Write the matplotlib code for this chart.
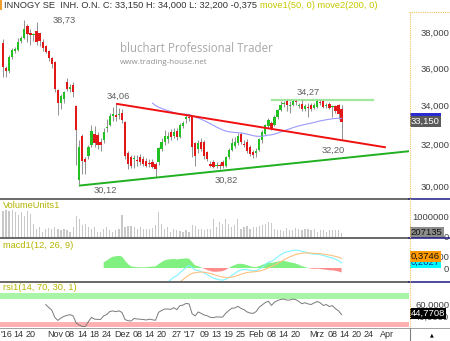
import numpy as np
import pandas as pd
import matplotlib
matplotlib.use("Agg")
import matplotlib.pyplot as plt
from matplotlib.lines import Line2D
from matplotlib.patches import Rectangle
from matplotlib.ticker import NullLocator
from matplotlib.transforms import ScaledTranslation

plt.rcParams['font.family'] = ['Liberation Sans', 'DejaVu Sans']

W, H = 450, 341

# Tageskerzen INNOGY SE, 07.10.2016 - 13.03.2017
opens = [37.4, 36.0, 35.8, 36.6, 36.95, 37.0, 37.5, 37.7, 38.4, 37.95,
         37.85, 38.1, 37.95, 37.45, 37.2, 36.95, 36.55, 36.3, 34.8, 34.1,
         34.3, 35.2, 34.85, 35.05, 33.95, 30.3, 32.4, 31.3, 31.45, 32.0,
         32.5, 32.45, 32.15, 32.2, 32.8, 33.0, 33.45, 33.5, 33.5, 33.6,
         33.15, 31.6, 31.4, 31.3, 31.25, 31.4, 31.3, 31.2, 31.1, 31.15,
         31.05, 31.15, 31.8, 32.15, 32.25, 32.6, 32.4, 32.65, 32.35, 32.9,
         33.3, 33.4, 33.42, 32.1, 31.8, 32.15, 32.15, 31.65, 31.05, 31.15,
         30.95, 31.0, 31.15, 30.95, 31.4, 31.75, 31.95, 32.1, 32.5, 32.05,
         32.15, 31.9, 31.65, 31.6, 31.75, 32.2, 32.5, 32.9, 33.1, 32.95,
         33.4, 33.75, 34.05, 34.2, 33.95, 34.0, 34.2, 33.95, 34.05, 33.8,
         33.9, 34.0, 33.85, 33.9, 34.15, 34.2, 33.95, 34.05, 33.9, 33.95,
         34.0, 33.8]
highs = [37.6, 36.1, 36.7, 37.1, 37.15, 37.7, 37.8, 38.73, 38.5, 38.2,
         38.0, 38.6, 38.0, 37.6, 37.3, 37.0, 36.6, 36.4, 34.85, 34.6,
         34.75, 35.45, 35.1, 35.2, 34.0, 32.2, 32.5, 31.4, 32.0, 33.0,
         32.9, 32.6, 32.3, 32.8, 33.3, 33.6, 33.9, 34.06, 33.85, 33.8,
         33.2, 31.7, 31.5, 31.5, 31.5, 31.55, 31.45, 31.35, 31.3, 31.3,
         31.15, 31.9, 32.3, 32.7, 32.6, 32.75, 32.8, 32.8, 33.1, 33.2,
         33.5, 33.55, 33.5, 32.15, 32.2, 32.3, 32.2, 31.7, 31.2, 31.25,
         31.15, 31.1, 31.25, 31.45, 31.85, 32.3, 32.35, 32.55, 32.6, 32.2,
         32.25, 32.0, 31.75, 31.85, 32.3, 32.7, 33.05, 33.35, 33.2, 33.5,
         33.8, 34.2, 34.2, 34.25, 34.2, 34.25, 34.27, 34.1, 34.25, 34.05,
         34.1, 34.1, 34.1, 34.25, 34.27, 34.25, 34.1, 34.15, 34.0, 34.0,
         34.05, 34.0]
lows = [35.5, 35.5, 35.7, 36.5, 36.8, 36.95, 37.4, 37.6, 37.45, 37.3,
        37.5, 37.3, 37.2, 36.95, 36.8, 36.4, 36.0, 34.7, 33.5, 33.8,
        34.1, 34.75, 34.7, 34.4, 31.0, 30.12, 30.6, 30.6, 31.3, 31.9,
        31.9, 31.8, 31.7, 32.1, 32.6, 32.9, 33.2, 33.2, 33.3, 33.1,
        31.3, 30.8, 30.85, 30.85, 30.95, 31.0, 30.95, 30.9, 30.9, 30.85,
        30.45, 31.0, 31.7, 32.0, 32.1, 32.2, 32.3, 32.2, 32.3, 32.8,
        33.1, 33.2, 31.4, 30.95, 31.6, 31.7, 31.3, 31.2, 30.9, 30.85,
        30.85, 30.82, 30.85, 30.9, 31.3, 31.7, 31.85, 32.0, 32.05, 31.9,
        31.6, 31.45, 31.35, 31.4, 31.7, 32.1, 32.45, 32.8, 32.7, 32.9,
        33.3, 33.7, 33.9, 33.7, 33.6, 33.95, 34.0, 33.85, 33.7, 33.7,
        33.4, 33.7, 33.8, 33.85, 34.0, 33.85, 33.85, 33.8, 33.4, 33.6,
        33.3, 32.2]
closes = [36.05, 35.8, 36.6, 37.0, 37.05, 37.45, 37.7, 38.2, 37.9, 37.85,
          37.9, 37.45, 37.5, 37.1, 36.9, 36.55, 36.2, 34.85, 34.1, 34.45,
          34.7, 34.85, 34.95, 34.7, 32.7, 31.9, 31.2, 31.15, 31.9, 32.65,
          32.1, 32.0, 32.0, 32.6, 32.85, 33.42, 33.55, 33.4, 33.55, 33.25,
          31.45, 31.05, 30.95, 31.35, 31.2, 31.15, 31.05, 30.95, 31.05, 30.9,
          30.8, 31.85, 32.15, 32.4, 32.4, 32.35, 32.6, 32.35, 33.0, 33.1,
          33.4, 33.35, 31.9, 31.45, 32.1, 31.8, 31.45, 31.3, 30.95, 30.9,
          31.0, 30.95, 30.95, 31.4, 31.75, 32.1, 32.15, 32.4, 32.15, 32.0,
          31.7, 31.55, 31.5, 31.7, 32.25, 32.6, 33.0, 33.25, 32.8, 33.4,
          33.75, 34.0, 34.1, 34.0, 34.0, 34.2, 34.15, 34.0, 33.8, 33.95,
          33.85, 33.8, 34.0, 34.2, 34.1, 33.9, 34.0, 33.85, 33.95, 33.7,
          33.525, 33.15]
volume_k = [1280, 1330, 1280, 1330, 1250, 1080, 1250, 1050, 1280, 1170,
            670, 420, 500, 250, 420, 470, 420, 500, 420, 330,
            420, 330, 250, 500, 1050, 920, 580, 670, 500, 420,
            500, 250, 250, 420, 500, 330, 250, 330, 420, 1080,
            500, 550, 550, 500, 420, 500, 420, 420, 420, 450,
            580, 1250, 670, 420, 500, 250, 420, 330, 280, 250,
            330, 250, 580, 550, 420, 420, 370, 420, 420, 880,
            500, 750, 670, 920, 670, 500, 580, 880, 420, 500,
            550, 420, 500, 500, 550, 580, 670, 750, 720, 420,
            330, 330, 280, 450, 330, 330, 450, 420, 330, 420,
            420, 330, 420, 250, 330, 370, 250, 330, 370, 370,
            330, 207.135]

tick_dates = ['2016-10-07', '2016-10-14', '2016-10-20', '2016-11-01', '2016-11-08',
              '2016-11-14', '2016-11-18', '2016-11-24', '2016-12-01', '2016-12-08',
              '2016-12-14', '2016-12-20', '2016-12-27', '2017-01-02', '2017-01-09',
              '2017-01-13', '2017-01-19', '2017-01-25', '2017-02-01', '2017-02-08',
              '2017-02-14', '2017-02-20', '2017-03-01', '2017-03-08', '2017-03-14',
              '2017-03-20', '2017-03-24', '2017-04-03']
tick_labels = ["'16", "14", "20", "Nov", "08", "14", "18", "24", "Dez", "08",
               "14", "20", "27", "'17", "09", "13", "19", "25", "Feb", "08",
               "14", "20", "Mrz", "08", "14", "20", "24", "Apr"]

# markierte Hoch-/Tiefpunkte (Index, Kurs)
pivot_idx = [7, 37, 25, 71, 96, 111]
pivot_val = [38.73, 34.06, 30.12, 30.82, 34.27, 32.20]
# Trendlinien (Index, Kurs)
resist_line = ([37.4, 125.2], [34.06, 31.87])
support_line = ([25.2, 132.8], [30.05, 31.67])
top_line = ([88.2, 121.3], [34.27, 34.27])

last_close, last_vol = 33.150, 207135
last_macd, last_signal, last_rsi = 0.2027, 0.3746, 44.7708

o = np.array(opens); h = np.array(highs); l = np.array(lows); c = np.array(closes)
vol = np.array(volume_k) * 1000
n = len(c)
idx = np.arange(n)
dates = pd.bdate_range('2016-10-07', periods=150)
tick_pos = dates.get_indexer(pd.to_datetime(tick_dates))


def ema(vals, span):
    vals = np.asarray(vals, float)
    out = np.full(len(vals), np.nan)
    s = np.where(~np.isnan(vals))[0][0]
    out[s + span - 1] = vals[s:s + span].mean()
    a = 2.0 / (span + 1)
    for i in range(s + span, len(vals)):
        out[i] = out[i - 1] + a * (vals[i] - out[i - 1])
    return out


def rsi(vals, p=14):
    d = np.diff(vals)
    g = np.clip(d, 0, None)
    ls = np.clip(-d, 0, None)
    out = np.full(len(vals), np.nan)
    ag, al = g[:p].mean(), ls[:p].mean()
    out[p] = 100 - 100 / (1 + ag / al)
    for i in range(p + 1, len(vals)):
        ag = (ag * (p - 1) + g[i - 1]) / p
        al = (al * (p - 1) + ls[i - 1]) / p
        out[i] = 100 - 100 / (1 + ag / al)
    return out


move1 = ema(c, 50)
macd = ema(c, 12) - ema(c, 26)
signal = ema(macd, 9)
hist = macd - signal
rsi14 = rsi(c)

fig = plt.figure(figsize=(W / 100, H / 100), dpi=100)


def panel(top, bottom):
    ax = fig.add_axes([0, 1 - bottom / H, 409 / W, (bottom - top) / H])
    ax.set_xlim(-0.98, 133.1)
    for s in ax.spines.values():
        s.set_visible(False)
    ax.yaxis.tick_right()
    ax.tick_params(axis='y', length=0, pad=29, labelsize=6.8, labelcolor='#404040')
    ax.set_xticks([])
    return ax


def right_labels(ax):
    for t in ax.get_yticklabels():
        t.set_horizontalalignment('right')


def ftext(x, y, s, **kw):
    return fig.text(x / W, 1 - y / H, s, **kw)


# --- Kurs ---
ax = panel(12, 198)
ax.set_yscale('log')
ax.set_ylim(29.48, 39.22)
ax.set_yticks([30, 32, 34, 36, 38])
ax.set_yticklabels(['30,000', '32,000', '34,000', '36,000', '38,000'])
ax.yaxis.set_minor_locator(NullLocator())
right_labels(ax)

ax.vlines(idx, l, h, color='#7f7f7f', lw=0.6, zorder=2)
body_col = np.where(c >= o, '#22c022', '#e01818')
body_h = np.maximum(np.abs(c - o), 0.03)
ax.bar(idx, body_h, bottom=np.minimum(o, c), width=0.74, color=body_col, zorder=3)
ax.plot(idx, move1, color='#9a9aff', lw=0.8, zorder=4)
ax.plot(*resist_line, color='#f01010', lw=1.4, zorder=5)
ax.plot(*support_line, color='#20b020', lw=1.4, zorder=5)
ax.plot(*top_line, color='#a0e8a0', lw=1.6, zorder=1)

offsets = [(29, 0), (1.5, 5.5), (18.5, -4.3), (4.6, -8), (8.8, 5.4), (-6.2, -6.8)]
for i, v, off in zip(pivot_idx, pivot_val, offsets):
    ax.annotate(f'{v:.2f}'.replace('.', ','), xy=(i, v), xytext=off,
                textcoords='offset points', ha='center', va='center',
                fontsize=6.7, color='#606060')

yt = ax.get_yaxis_transform()
ax.text(1.004, move1[-1], '33,399', transform=yt, fontsize=6.8, color='#2b2bd0',
        va='center', ha='left',
        bbox=dict(boxstyle='square,pad=0.12', fc='#2b2bd0', ec='none'))
ax.text(1.004, last_close, '33,150', transform=yt, fontsize=6.8, color='white',
        va='center', ha='left', zorder=6,
        bbox=dict(boxstyle='square,pad=0.12', fc='#5a5a5a', ec='none'))

# --- Volumen ---
av = panel(199, 237)
av.set_ylim(0, 1.9e6)
av.bar(idx, vol, width=0.4, color='#c8c8c8')
av.set_yticks([0, 1e6])
av.set_yticklabels(['0', '1000000'])
right_labels(av)
av.text(1.004, last_vol, '207135', transform=av.get_yaxis_transform(), fontsize=6.8,
        color='#111111', va='center', ha='left',
        bbox=dict(boxstyle='square,pad=0.12', fc='#8c8c8c', ec='none'))

# --- MACD ---
am = panel(239, 281)
am.set_ylim(-0.433, 0.967)
am.fill_between(idx, 0, hist, where=hist >= 0, interpolate=True, color='#80f080', lw=0)
am.fill_between(idx, 0, hist, where=hist < 0, interpolate=True, color='#ff8a8a', lw=0)
am.plot(idx, macd, color='#80f4ff', lw=0.8)
am.plot(idx, signal, color='#ffc080', lw=0.8)
am.set_yticks([0, 0.4])
am.set_yticklabels(['0', '0,4000'])
right_labels(am)
mt = am.get_yaxis_transform()
am.text(1.004, last_macd, '0,2027', transform=mt, fontsize=6.8, color='#0030a0',
        va='center', ha='left', bbox=dict(boxstyle='square,pad=0.12', fc='#00ffff', ec='none'))
am.text(1.004, last_signal, '0,3746', transform=mt, fontsize=6.8, color='#111111',
        va='center', ha='left', zorder=6,
        bbox=dict(boxstyle='square,pad=0.12', fc='#ff9900', ec='none'))

# --- RSI ---
ar = panel(283, 327)
ar.set_ylim(21.3, 97.8)
ar.axhspan(70, 80, color='#a8f5a8', lw=0)
ar.axhspan(20, 30, color='#ffb0b0', lw=0)
ar.plot(idx, rsi14, color='#7a7a7a', lw=0.7)
ar.set_yticks([40, 60])
ar.set_yticklabels(['40,0000', '60,0000'])
right_labels(ar)
ar.text(1.004, last_rsi, '44,7708', transform=ar.get_yaxis_transform(), fontsize=6.8,
        color='white', va='center', ha='left', zorder=6,
        bbox=dict(boxstyle='square,pad=0.12', fc='#000000', ec='none'))
ar.set_xticks(tick_pos)
ar.set_xticklabels(tick_labels)
ar.tick_params(axis='x', length=0, pad=2.5, labelsize=6.5, labelcolor='#333333')
first = ar.get_xticklabels()[0]
first.set_horizontalalignment('left')
first.set_transform(first.get_transform() + ScaledTranslation(-0.02, 0, fig.dpi_scale_trans))

# --- Rahmen / Trenner ---
def hline(y, x0, x1, **kw):
    fig.add_artist(Line2D([x0 / W, x1 / W], [1 - y / H, 1 - y / H], **kw))


def vline(x, y0, y1, **kw):
    fig.add_artist(Line2D([x / W, x / W], [1 - y0 / H, 1 - y1 / H], **kw))


for y in (198.5, 238, 282):
    hline(y, 0, 409, color='#404040', lw=1.1)
    hline(y, 409, 450, color='#1a1a80', lw=1.1)
hline(327.5, 0, 450, color='#a0a0a0', lw=0.7)
hline(11.5, 409, 450, color='#f0c060', lw=0.8, ls=(0, (1, 1)))
vline(409.5, 11.5, 327, color='#f0c060', lw=0.8, ls=(0, (1, 1)))
vline(409.5, 327.5, 341, color='#808080', lw=0.8)
fig.add_artist(Rectangle((0, 1 - 10 / H), 2 / W, 10 / H, transform=fig.transFigure,
                         color='#f0a030', lw=0))
ftext(432, 335, '\u25b2', fontsize=3.5, color='#000000', ha='center', va='center',
      family=['DejaVu Sans'])

# --- Texte ---
t1 = ftext(4, 5.5, 'INNOGY SE  INH. O.N. C: 33,150 H: 34,000 L: 32,200 -0,375',
           fontsize=6.7, color='#333333', va='center', ha='left')
fig.canvas.draw()
bb = t1.get_window_extent()
fig.text(bb.x1 / W + 3 / W, 1 - 5.5 / H, 'move1(50, 0) move2(200, 0)',
         fontsize=6.7, color='#c8c800', va='center', ha='left')

ftext(3, 205, 'VolumeUnits1', fontsize=6.7, color='#b4b400', va='center')
ftext(3, 245, 'macd1(12, 26, 9)', fontsize=6.7, color='#b4b400', va='center')
ftext(3, 287, 'rsi1(14, 70, 30, 1)', fontsize=6.7, color='#b4b400', va='center')

ftext(120, 49, 'bluchart Professional Trader', fontsize=8.3, color='#a8a8a8',
      va='center', family=['Open Sans', 'DejaVu Sans'])
ftext(120, 62, 'www.trading-house.net', fontsize=5.8, color='#909090',
      va='center', family=['Open Sans', 'DejaVu Sans'])

fig.savefig('out.png', dpi=100)
